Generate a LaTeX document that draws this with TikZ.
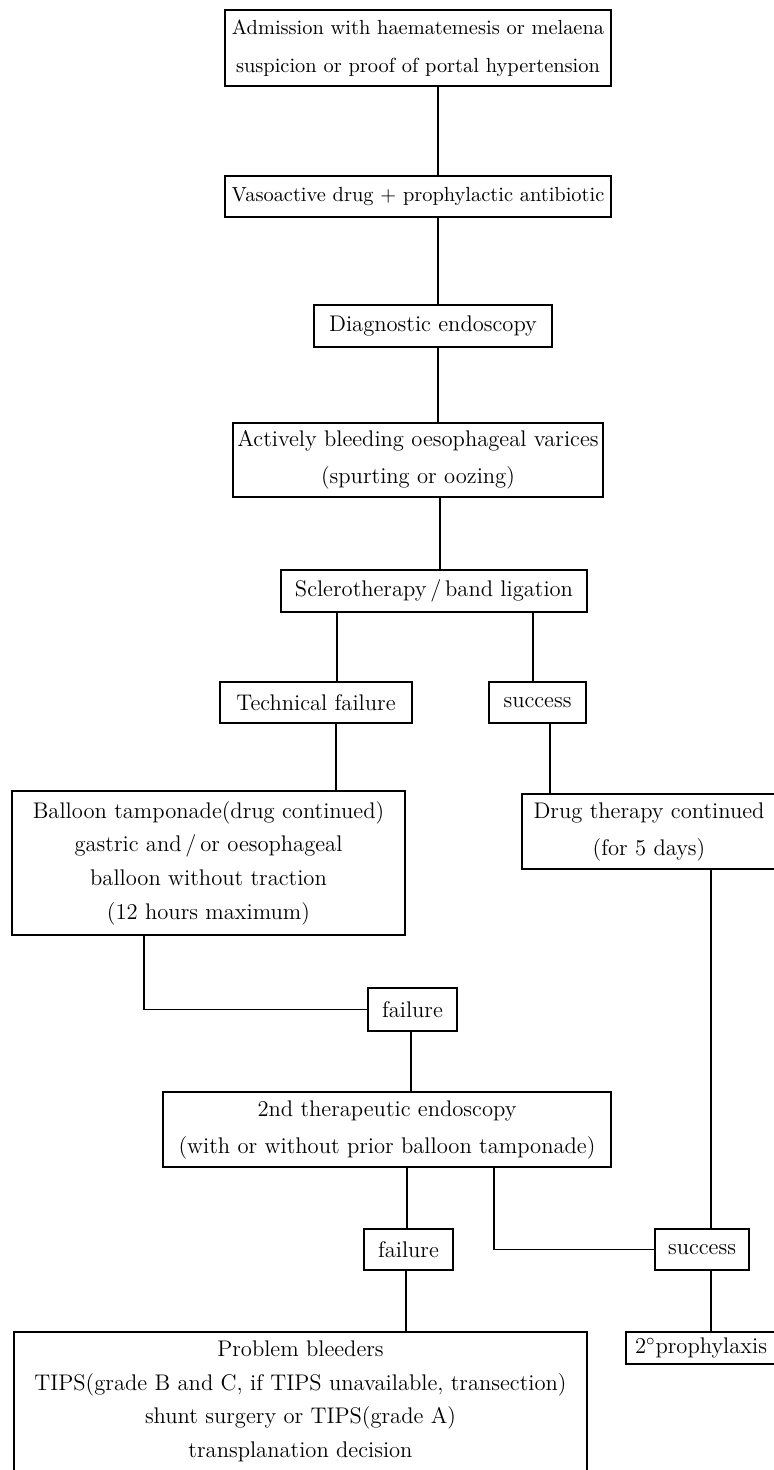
\documentclass[tikz,border=0pt]{standalone}
\usepackage{tikz}

\begin{document}
\begin{tikzpicture}[x=0.5pt, y=-0.5pt,
    box/.style={draw, line width=0.8pt, inner sep=0pt, align=center,
        font=\fontsize{11.3}{18.5}\selectfont},
    topbox/.style={box, font=\fontsize{10.2}{19}\selectfont},
    tallbox/.style={box, font=\fontsize{11.3}{16.8}\selectfont},
    link/.style={line width=0.8pt}]
    \useasboundingbox (0,0) rectangle (774,1470);
    % main column
    \node[topbox, minimum width=193pt, minimum height=38pt] (adm) at (418,48)
        {Admission with haematemesis or melaena\\suspicion or proof of portal hypertension};
    \node[topbox, minimum width=193pt, minimum height=20.5pt] (vaso) at (418,196.5)
        {Vasoactive drug + prophylactic antibiotic};
    \node[box, minimum width=119pt, minimum height=21pt] (diag) at (433,326)
        {Diagnostic endoscopy};
    \node[box, minimum width=185pt, minimum height=37pt] (active) at (418,460)
        {Actively bleeding oesophageal varices\\(spurting or oozing)};
    \node[box, minimum width=153pt, minimum height=21pt] (sclero) at (434,591)
        {Sclerotherapy\,/\,band ligation};
    % first split
    \node[box, minimum width=96pt, minimum height=20.5pt] (tech) at (316,702.5)
        {Technical failure};
    \node[box, minimum width=48.5pt, minimum height=20.5pt] (succa) at (537.5,702.5)
        {success};
    \node[tallbox, minimum width=196.5pt, minimum height=72pt] (balloon) at (208.5,863)
        {Balloon tamponade(drug continued)\\gastric and\,/\,or oesophageal\\balloon without traction\\(12 hours maximum)};
    \node[box, minimum width=127pt, minimum height=37.5pt] (drug) at (649,831.5)
        {Drug therapy continued\\(for 5 days)};
    \node[box, minimum width=44.5pt, minimum height=21.5pt] (faila) at (412.5,1009.5)
        {failure};
    \node[box, minimum width=224pt, minimum height=37.5pt] (second) at (387,1129.5)
        {2nd therapeutic endoscopy\\(with or without prior balloon tamponade)};
    % second split
    \node[box, minimum width=44.5pt, minimum height=20.5pt] (failb) at (408.5,1249.5)
        {failure};
    \node[box, minimum width=47pt, minimum height=20.5pt] (succb) at (702,1249.5)
        {success};
    \node[tallbox, minimum width=286.5pt, minimum height=69.5pt] (problem) at (300.5,1401.5)
        {Problem bleeders\\TIPS(grade B and C, if TIPS unavailable, transection)\\shunt surgery or TIPS(grade A)\\transplanation decision};
    \node[box, minimum width=75pt, minimum height=16pt] (proph) at (701,1348)
        {2$^\circ$prophylaxis};

    \draw[link] (adm.south -| 438,0) -- (vaso.north -| 438,0);
    \draw[link] (vaso.south -| 438,0) -- (diag.north -| 438,0);
    \draw[link] (diag.south -| 438,0) -- (active.north -| 438,0);
    \draw[link] (active.south -| 440,0) -- (sclero.north -| 440,0);
    \draw[link] (sclero.south -| 337,0) -- (tech.north -| 337,0);
    \draw[link] (sclero.south -| 533,0) -- (succa.north -| 533,0);
    \draw[link] (tech.south -| 336,0) -- (balloon.north -| 336,0);
    \draw[link] (succa.south -| 550,0) -- (drug.north -| 550,0);
    \draw[link] (balloon.south -| 144,0) |- (faila.west);
    \draw[link] (faila.south -| 411,0) -- (second.north -| 411,0);
    \draw[link] (drug.south -| 711,0) -- (succb.north -| 711,0);
    \draw[link] (second.south -| 407,0) -- (failb.north -| 407,0);
    \draw[link] (second.south -| 494,0) |- (succb.west);
    \draw[link] (failb.south -| 406,0) -- (problem.north -| 406,0);
    \draw[link] (succb.south -| 711,0) -- (proph.north -| 711,0);
\end{tikzpicture}
\end{document}
